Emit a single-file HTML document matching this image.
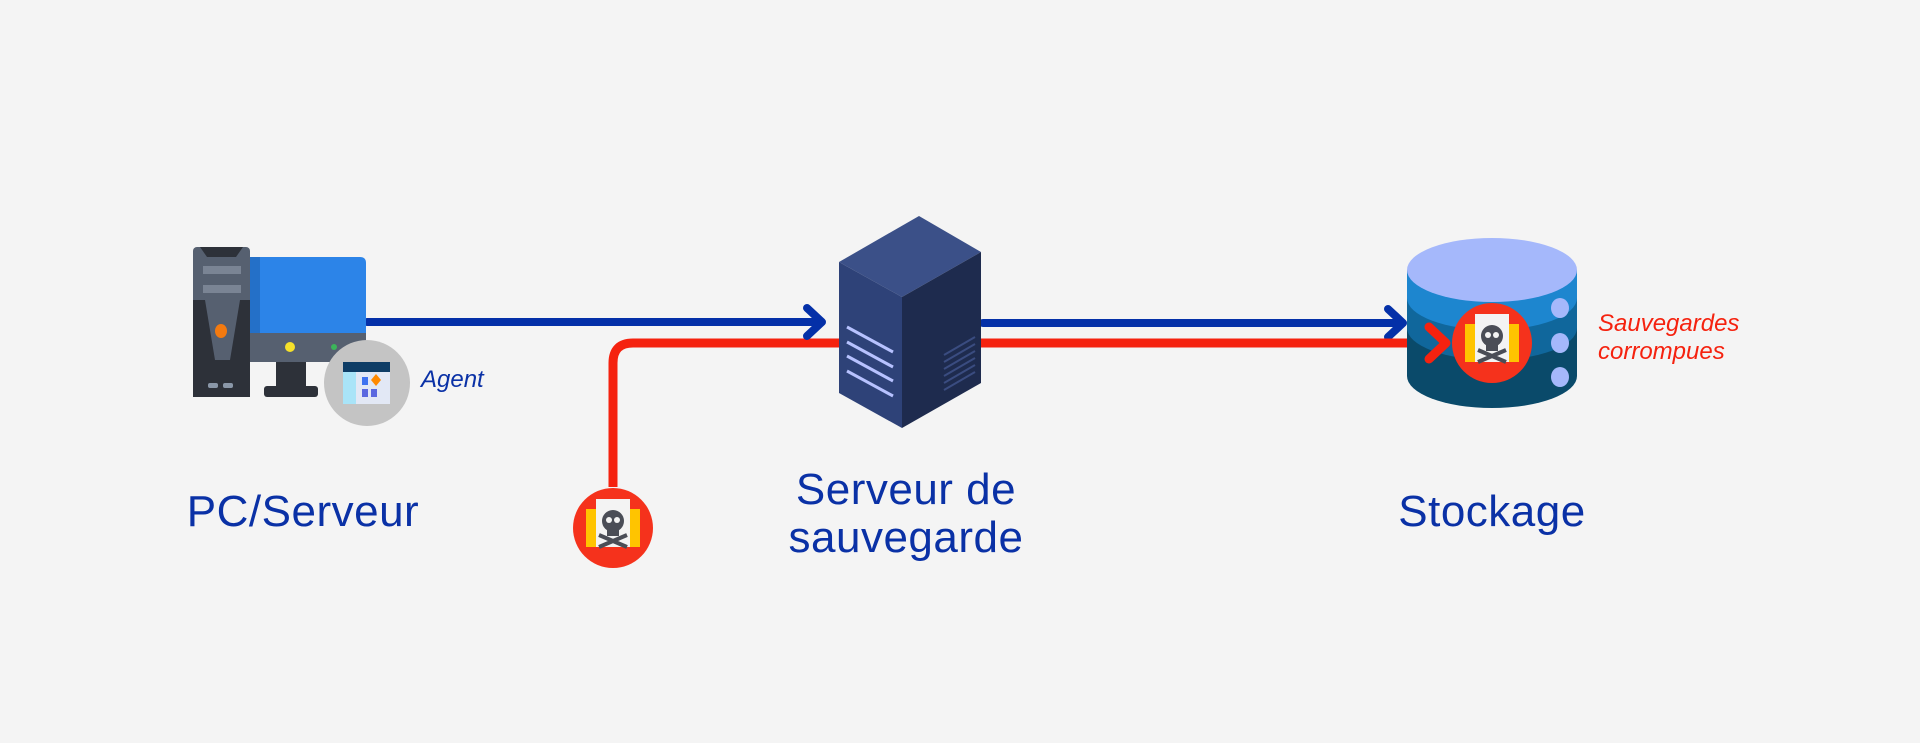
<!DOCTYPE html>
<html><head><meta charset="utf-8"><style>
html,body{margin:0;padding:0;background:#f4f4f4;}
body{width:1920px;height:743px;position:relative;overflow:hidden;font-family:"Liberation Sans",sans-serif;}
.t{position:absolute;color:#0a31a6;font-size:44px;line-height:48px;text-align:center;white-space:nowrap;letter-spacing:0.5px;}
.i{position:absolute;font-style:italic;font-size:24px;line-height:28px;white-space:nowrap;}
</style></head><body>
<svg width="1920" height="743" style="position:absolute;left:0;top:0">
<path d="M613 487 V363 Q613 343 633 343 H840" fill="none" stroke="#f5220f" stroke-width="9"/>
<line x1="367" y1="322" x2="820" y2="322" stroke="#0430a8" stroke-width="8" stroke-linecap="round"/>
<polyline points="807,308 822,322 807,336" fill="none" stroke="#0430a8" stroke-width="8" stroke-linecap="round" stroke-linejoin="round"/>
<line x1="983" y1="323" x2="1402" y2="323" stroke="#0430a8" stroke-width="8" stroke-linecap="round"/>
<polyline points="1388,309 1403,323 1388,337" fill="none" stroke="#0430a8" stroke-width="8" stroke-linecap="round" stroke-linejoin="round"/>
<line x1="975" y1="343" x2="1445" y2="343" stroke="#f5220f" stroke-width="9"/>
<rect x="193" y="247" width="57" height="150" rx="4" fill="#566070"/>
<path d="M200 247 L243 247 L236 257 L207 257Z" fill="#2d3139"/>
<path d="M193 300 L205 300 L215 360 L230 360 L240 300 L250 300 V397 H193Z" fill="#2d3139"/>
<rect x="203" y="266" width="38" height="8" fill="#7a8494"/>
<rect x="203" y="285" width="38" height="8" fill="#7a8494"/>
<ellipse cx="221" cy="331" rx="6" ry="7" fill="#f37a10"/>
<rect x="208" y="383" width="10" height="5" rx="2" fill="#8a97a8"/>
<rect x="223" y="383" width="10" height="5" rx="2" fill="#8a97a8"/>
<path d="M250 257 H360 Q366 257 366 263 V362 H250Z" fill="#2c84e8"/>
<rect x="250" y="257" width="10" height="105" fill="#2470c8"/>
<rect x="250" y="333" width="116" height="29" fill="#566070"/>
<circle cx="290" cy="347" r="5" fill="#f6e12a"/>
<circle cx="334" cy="347" r="3" fill="#3cb55a"/>
<rect x="276" y="362" width="30" height="25" fill="#2d3139"/>
<rect x="264" y="386" width="54" height="11" rx="3" fill="#2d3139"/>
<circle cx="367" cy="383" r="43" fill="#c4c4c4"/>
<rect x="343" y="362" width="47" height="42" fill="#e2e8f5"/>
<rect x="343" y="362" width="47" height="10" fill="#0e3d66"/>
<rect x="343" y="372" width="13" height="32" fill="#a9e4f8"/>
<rect x="362" y="377" width="6" height="8" fill="#3f73f0"/><rect x="362" y="389" width="6" height="8" fill="#5a68e0"/><rect x="371" y="389" width="6" height="8" fill="#5a68e0"/>
<path d="M376 374 L381 380 L376 386 L371 380Z" fill="#ff8a00"/>
<polygon points="839,262 919,216 981,252 902,297" fill="#3b5088"/>
<polygon points="839,262 902,297 902,428 839,393" fill="#2e4278"/>
<polygon points="902,297 981,252 981,383 902,428" fill="#1e2b4e"/>
<g stroke="#b7c2ff" stroke-width="3"><line x1="847" y1="327" x2="893" y2="352"/><line x1="847" y1="342" x2="893" y2="367"/><line x1="847" y1="356" x2="893" y2="381"/><line x1="847" y1="371" x2="893" y2="396"/></g>
<g stroke="#3a4c80" stroke-width="2"><line x1="944" y1="355" x2="975" y2="337"/><line x1="944" y1="362" x2="975" y2="344"/><line x1="944" y1="369" x2="975" y2="351"/><line x1="944" y1="376" x2="975" y2="358"/><line x1="944" y1="383" x2="975" y2="365"/><line x1="944" y1="390" x2="975" y2="372"/></g>
<path d="M1407 270 V376 A85 32 0 0 0 1577 376 V270Z" fill="#0a4a6a"/>
<path d="M1407 270 V328 A85 32 0 0 0 1577 328 V270Z" fill="#10679c"/>
<path d="M1407 270 V298 A85 32 0 0 0 1577 298 V270Z" fill="#1d86cf"/>
<ellipse cx="1492" cy="270" rx="85" ry="32" fill="#a5b8fb"/>
<ellipse cx="1560" cy="308" rx="9" ry="10" fill="#a5b8fb"/>
<ellipse cx="1560" cy="343" rx="9" ry="10" fill="#a5b8fb"/>
<ellipse cx="1560" cy="377" rx="9" ry="10" fill="#a5b8fb"/>
<polyline points="1429,327 1446,343 1429,359" fill="none" stroke="#f5220f" stroke-width="9" stroke-linecap="round" stroke-linejoin="round"/>
<g id="sk">
<circle cx="1492" cy="343" r="40" fill="#f5321c"/>
<rect x="1465" y="324" width="54" height="38" fill="#ffc400"/>
<rect x="1475" y="314" width="34" height="48" fill="#f3f3f3"/>
<circle cx="1492" cy="336" r="11" fill="#4a4d56"/>
<rect x="1486" y="343" width="12" height="8" fill="#4a4d56"/>
<path d="M1478 350 L1506 362 M1506 350 L1478 362" stroke="#4a4d56" stroke-width="4"/>
<circle cx="1488" cy="335" r="3" fill="#f3f3f3"/><circle cx="1496" cy="335" r="3" fill="#f3f3f3"/>
</g>
<use href="#sk" x="-879" y="185"/>
</svg>
<div class="t" style="left:160px;top:488px;width:286px">PC/Serveur</div>
<div class="t" style="left:754px;top:466px;width:304px">Serveur de<br>sauvegarde</div>
<div class="t" style="left:1349px;top:488px;width:286px">Stockage</div>
<div class="i" style="left:421px;top:366px;color:#0a31a6">Agent</div>
<div class="i" style="left:1598px;top:310px;color:#f5220f">Sauvegardes<br>corrompues</div>
</body></html>
